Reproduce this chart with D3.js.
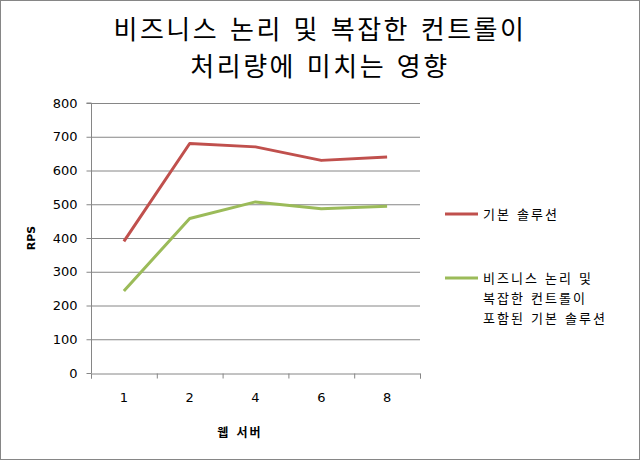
<!DOCTYPE html>
<html><head><meta charset="utf-8">
<script src="https://cdn.jsdelivr.net/npm/d3@7"></script>
<style>body{margin:0;background:#fff}svg{display:block}text{font-family:"DejaVu Sans","Noto Sans CJK KR",sans-serif}</style>
</head><body>
<script>
const categories = ["1","2","4","6","8"];
const basic = [390, 680, 670, 630, 640];
const complex = [243, 458, 507, 487, 494];
const yTicks = [0,100,200,300,400,500,600,700,800];
const titleLines = ["비즈니스 논리 및 복잡한 컨트롤이","처리량에 미치는 영향"];
const seriesNames = [["기본 솔루션"],["비즈니스 논리 및","복잡한 컨트롤이","포함된 기본 솔루션"]];
const colors = ["#c0504d","#9bbb59"];

const W=640,H=460;
const svg=d3.select("body").append("svg").attr("width",W).attr("height",H);
svg.append("rect").attr("x",0.5).attr("y",0.5).attr("width",W-1).attr("height",H-1).attr("fill","#fff").attr("stroke","#868686");

const L=91,R=420,T=103,B=373;
const x=d3.scaleBand().domain(categories).range([L,R]);
const y=d3.scaleLinear().domain([0,800]).range([B,T]);

svg.append("g").selectAll("line").data(yTicks.filter(d=>d>0)).join("line")
  .attr("x1",L).attr("x2",R).attr("y1",d=>y(d)+0.5).attr("y2",d=>y(d)+0.5)
  .attr("stroke","#868686").attr("stroke-width",1);

const ya=svg.append("g").attr("transform",`translate(${L+0.5},0)`)
  .call(d3.axisLeft(y).tickValues(yTicks).tickSize(5).tickPadding(9));
const xa=svg.append("g").attr("transform",`translate(0,${B+0.5})`)
  .call(d3.axisBottom(x).tickSize(5).tickPadding(14));
xa.selectAll(".tick line").remove();
const bounds=categories.map(c=>x(c)).concat([R]);
xa.selectAll("line.b").data(bounds).join("line").attr("class","b")
  .attr("x1",d=>d+0.5).attr("x2",d=>d+0.5).attr("y1",0).attr("y2",5).attr("stroke","#868686");
[ya,xa].forEach(a=>{a.selectAll("path,line").attr("stroke","#868686");
  a.selectAll("text").attr("font-size",13).attr("fill","#000").attr("font-family","DejaVu Sans, sans-serif");});
ya.select(".domain").attr("d",`M-5,${T}H0V${B}`);

const line=d3.line().x((d,i)=>x(categories[i])+x.bandwidth()/2).y(d=>y(d));
[basic,complex].forEach((s,k)=>{
  svg.append("path").attr("d",line(s)).attr("fill","none").attr("stroke",colors[k]).attr("stroke-width",3).attr("stroke-linejoin","round");
});

svg.append("g").selectAll("text").data(titleLines).join("text")
  .attr("x",320).attr("y",(d,i)=>39+i*37).attr("text-anchor","middle").attr("font-size",26)
  .attr("letter-spacing",2.5).attr("fill","#000").text(d=>d);

svg.append("text").attr("transform",`translate(35,${(T+B)/2}) rotate(-90)`).attr("text-anchor","middle")
  .attr("font-size",11).attr("font-weight","bold").text("RPS");
svg.append("text").attr("x",240).attr("y",437).attr("text-anchor","middle").attr("font-size",12)
  .attr("letter-spacing",2).attr("font-weight","bold").text("웹 서버");

const ly=[214,278];
seriesNames.forEach((lines,k)=>{
  svg.append("line").attr("x1",445).attr("x2",478).attr("y1",ly[k]).attr("y2",ly[k]).attr("stroke",colors[k]).attr("stroke-width",3);
  lines.forEach((t,j)=>svg.append("text").attr("x",483).attr("y",ly[k]+5+j*20).attr("font-size",13)
    .attr("letter-spacing",2).text(t));
});
</script>
</body></html>
